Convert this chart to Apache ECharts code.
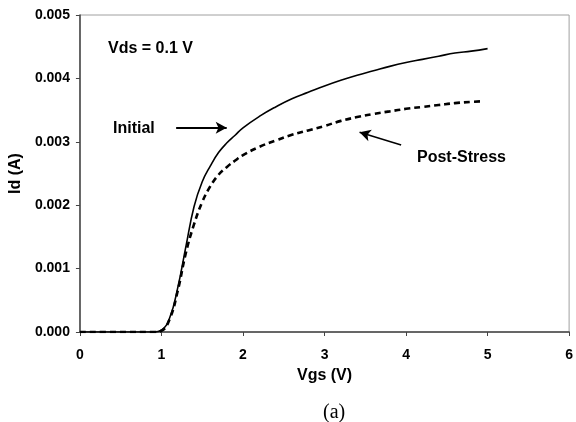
<!DOCTYPE html>
<html>
<head>
<meta charset="utf-8">
<script src="https://cdn.jsdelivr.net/npm/echarts@6/dist/echarts.min.js"></script>
<style>
  html, body { margin: 0; padding: 0; background: #fff; }
  #chart { width: 576px; height: 422px; }
</style>
</head>
<body>
<div id="chart"></div>
<script>
const vgsInitial = [0, 0.5, 0.9, 1.0, 1.1, 1.2, 1.3, 1.4, 1.5, 1.6, 1.7, 1.8, 1.9, 2.0, 2.2, 2.4, 2.6, 2.8, 3.0, 3.2, 3.4, 3.6, 3.8, 4.0, 4.2, 4.4, 4.6, 4.8, 5.0];
const idInitial = [0, 0, 0, 0.00003, 0.00022, 0.0007, 0.00135, 0.00198, 0.00237, 0.00262, 0.00283, 0.00298, 0.0031, 0.00322, 0.0034, 0.00355, 0.00368, 0.00378, 0.00388, 0.00397, 0.00405, 0.00412, 0.00419, 0.00425, 0.0043, 0.00435, 0.0044, 0.00443, 0.00447];

const vgsPost = [0, 0.5, 0.9, 1.0, 1.1, 1.2, 1.3, 1.4, 1.5, 1.6, 1.7, 1.8, 1.9, 2.0, 2.2, 2.4, 2.6, 2.8, 3.0, 3.2, 3.4, 3.6, 3.8, 4.0, 4.2, 4.4, 4.6, 4.8, 4.95];
const idPost = [0, 0, 0, 0.00002, 0.0002, 0.00065, 0.00125, 0.0017, 0.00205, 0.0023, 0.00248, 0.0026, 0.0027, 0.00279, 0.00292, 0.00302, 0.00311, 0.00318, 0.00325, 0.00333, 0.00339, 0.00344, 0.00348, 0.00352, 0.00355, 0.00358, 0.00361, 0.00363, 0.00364];

const xTicks = [0, 6, 1];
const yTicks = [0, 0.005, 0.001];

const font = '"Liberation Sans", Arial, sans-serif';

const chart = echarts.init(document.getElementById('chart'));

const pairs = (xs, ys) => xs.map((x, i) => [x, ys[i]]);

const option = {
  animation: false,
  grid: {
    left: 79, right: 5, top: 15, bottom: 90,
    show: true,
    borderColor: '#a0a0a0',
    borderWidth: 1
  },
  xAxis: {
    type: 'value',
    min: xTicks[0], max: xTicks[1], interval: xTicks[2],
    name: 'Vgs (V)',
    nameLocation: 'middle',
    nameGap: 36,
    nameTextStyle: { fontFamily: font, fontWeight: 'bold', fontSize: 16, color: '#000' },
    axisLine: { lineStyle: { color: '#444', width: 1.5 } },
    axisTick: { show: true, inside: false, length: 4, lineStyle: { color: '#444' } },
    axisLabel: { fontFamily: font, fontWeight: 'bold', fontSize: 14, color: '#000', margin: 16 },
    splitLine: { show: false }
  },
  yAxis: {
    type: 'value',
    min: yTicks[0], max: yTicks[1], interval: yTicks[2],
    name: 'Id (A)',
    nameLocation: 'middle',
    nameGap: 48,
    nameRotate: 90,
    nameTextStyle: { fontFamily: font, fontWeight: 'bold', fontSize: 16, color: '#000' },
    axisLine: { show: true, lineStyle: { color: '#444', width: 1.5 } },
    axisTick: { show: true, length: 4, lineStyle: { color: '#444' } },
    axisLabel: {
      fontFamily: font, fontWeight: 'bold', fontSize: 14, color: '#000', margin: 10,
      formatter: v => v.toFixed(3)
    },
    splitLine: { show: false }
  },
  series: [
    {
      name: 'Initial',
      type: 'line',
      data: pairs(vgsInitial, idInitial),
      smooth: 0.45,
      showSymbol: false,
      lineStyle: { color: '#000', width: 1.6 },
      markLine: {
        silent: true,
        symbol: ['none', 'arrow'],
        symbolSize: [9, 11],
        label: { show: false },
        lineStyle: { color: '#000', width: 2, type: 'solid' },
        data: [[{ coord: [1.18, 0.00322] }, { coord: [1.80, 0.00322] }]]
      }
    },
    {
      name: 'Post-Stress',
      type: 'line',
      data: pairs(vgsPost, idPost),
      smooth: 0.45,
      showSymbol: false,
      lineStyle: { color: '#000', width: 2.6, type: [6, 4] },
      markLine: {
        silent: true,
        symbol: ['none', 'arrow'],
        symbolSize: [9, 11],
        label: { show: false },
        lineStyle: { color: '#000', width: 1.5, type: 'solid' },
        data: [[{ coord: [3.94, 0.00295] }, { coord: [3.43, 0.00315] }]]
      }
    }
  ],
  graphic: [
    { type: 'text', left: 108, top: 41, style: { text: 'Vds = 0.1 V', font: 'bold 16px ' + font, fill: '#000' } },
    { type: 'text', left: 113, top: 121, style: { text: 'Initial', font: 'bold 16px ' + font, fill: '#000' } },
    { type: 'text', left: 417, top: 150, style: { text: 'Post-Stress', font: 'bold 16px ' + font, fill: '#000' } },
    { type: 'text', left: 323, top: 403, style: { text: '(a)', font: '20px "Liberation Serif", "Times New Roman", serif', fill: '#000' } }
  ]
};

chart.setOption(option);
</script>
</body>
</html>
